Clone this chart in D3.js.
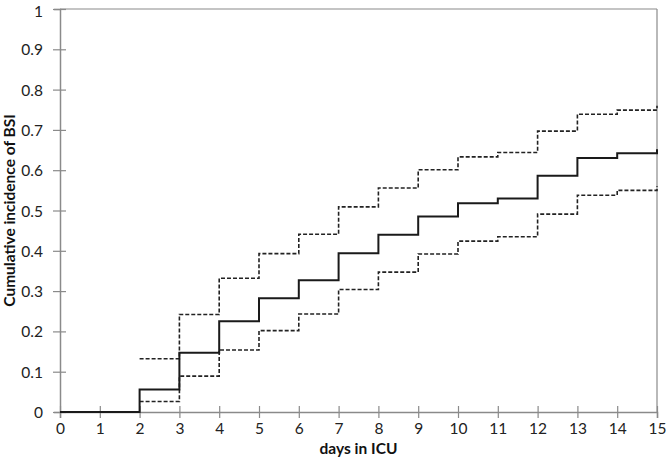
<!DOCTYPE html>
<html><head><meta charset="utf-8">
<script src="https://cdn.jsdelivr.net/npm/d3@7/dist/d3.min.js"></script>
<style>body{margin:0;background:#fff}svg{display:block}</style>
</head><body><svg id="c" width="666" height="469"></svg>
<script>
const days = [0,1,2,3,4,5,6,7,8,9,10,11,12,13,14,15];
// step values: value holds from day[i] to day[i+1]
const estimate = [0,0,0.056,0.147,0.225,0.282,0.327,0.394,0.440,0.485,0.518,0.530,0.586,0.630,0.642,0.652];
const upperCI  = [null,null,0.132,0.242,0.332,0.393,0.441,0.509,0.556,0.601,0.633,0.644,0.697,0.739,0.749,0.760];
const lowerCI  = [null,null,0.026,0.089,0.154,0.202,0.243,0.304,0.347,0.392,0.424,0.435,0.491,0.538,0.550,0.560];
const xTicks = days;
const yTicks = [0,0.1,0.2,0.3,0.4,0.5,0.6,0.7,0.8,0.9,1];

const svg = d3.select("#c");
const m = {l:60, r:9, t:9, b:57};
const W = 666, H = 469;
const x = d3.scaleLinear().domain([0,15]).range([m.l, W-m.r]);
const y = d3.scaleLinear().domain([0,1]).range([H-m.b, m.t]);
const font = "Lato, 'Open Sans', sans-serif";
const axisCol = "#8a8a8a";

// frame top and right
svg.append("line").attr("x1",x(0)).attr("x2",x(15)).attr("y1",y(1)).attr("y2",y(1)).attr("stroke",axisCol).attr("stroke-width",1.2);
svg.append("line").attr("x1",x(15)).attr("x2",x(15)).attr("y1",y(1)).attr("y2",y(0)).attr("stroke",axisCol).attr("stroke-width",1.2);

// y axis
const ya = svg.append("g").attr("transform",`translate(${x(0)},0)`)
  .call(d3.axisLeft(y).tickValues(yTicks).tickFormat(d=>d3.format("")(+d.toFixed(1))).tickSize(6).tickPadding(10));
ya.select(".domain").attr("stroke",axisCol).attr("stroke-width",1.5);
ya.selectAll(".tick line").attr("stroke",axisCol).attr("stroke-width",1.2).attr("x2",6).attr("x1",-7);
ya.selectAll("text").attr("font-family",font).attr("font-size",15.5).attr("fill","#222").attr("x",-17)
  .attr("dy",d=>d===1?"0.46em":"0.36em");

// x axis
const xa = svg.append("g").attr("transform",`translate(0,${y(0)})`)
  .call(d3.axisBottom(x).tickValues(xTicks).tickSize(6).tickPadding(10));
xa.select(".domain").attr("stroke",axisCol).attr("stroke-width",1.5);
xa.selectAll(".tick line").attr("stroke",axisCol).attr("stroke-width",1.2).attr("y1",-6).attr("y2",6);
xa.selectAll("text").attr("font-family",font).attr("font-size",15.5).attr("fill","#222").attr("y",11);

// step lines
function stepData(vals){
  const pts=[];
  days.forEach((d,i)=>{ if(vals[i]!==null) pts.push([d,vals[i]]); });
  return pts;
}
const line = d3.line().x(d=>x(d[0])).y(d=>y(d[1])).curve(d3.curveStepAfter);
svg.append("path").datum(stepData(upperCI)).attr("d",line).attr("fill","none")
  .attr("stroke","#222").attr("stroke-width",1.6).attr("stroke-dasharray","4,2");
svg.append("path").datum(stepData(lowerCI)).attr("d",line).attr("fill","none")
  .attr("stroke","#222").attr("stroke-width",1.6).attr("stroke-dasharray","4,2");
svg.append("path").datum(stepData(estimate)).attr("d",line).attr("fill","none")
  .attr("stroke","#1a1a1a").attr("stroke-width",2);

// titles
svg.append("text").attr("transform",`translate(9,${(y(0)+y(1))/2}) rotate(-90)`)
  .attr("text-anchor","middle").attr("dominant-baseline","central")
  .attr("font-family",font).attr("font-weight","bold").attr("font-size",15.5).attr("fill","#111")
  .text("Cumulative incidence of BSI");
svg.append("text").attr("x",(x(0)+x(15))/2).attr("y",454)
  .attr("text-anchor","middle").attr("font-family",font).attr("font-weight","bold").attr("font-size",15.5).attr("fill","#111")
  .text("days in ICU");
</script></body></html>
